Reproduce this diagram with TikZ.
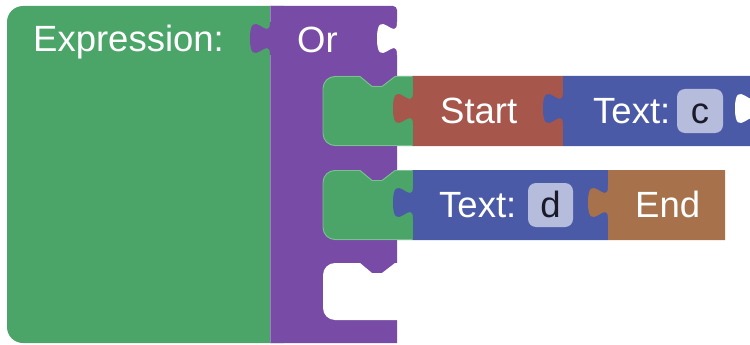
\documentclass[tikz,border=0pt]{standalone}
\usepackage{fontspec}
\setmainfont{Liberation Sans}
\definecolor{gr}{HTML}{4BA568}
\definecolor{pu}{HTML}{784BA6}
\definecolor{rd}{HTML}{A6564B}
\definecolor{bl}{HTML}{4B5AA6}
\definecolor{br}{HTML}{A6714B}
\definecolor{lb}{HTML}{B6BCDC}
\definecolor{dk}{HTML}{1A1A2A}
\newcommand\vblk[5]{%
  \fill[#1] (#2,#3) -- (#4,#3) -- (#4,#5) -- (#2,#5) -- (#2,#3+49)
    .. controls (#2,#3+27) and (#2-20,#3+66.6) .. (#2-20,#3+32.5)
    .. controls (#2-20,#3-1.6) and (#2,#3+38) .. (#2,#3+16) -- cycle;}
\newcommand\stmtblk[5]{%
  \path[#1] (#4,#2) -- (395,#2) -- (382,#2+10) -- (372,#2+10) -- (360,#2) -- (335,#2)
    .. controls (328.4,#2) and (323,#2+5.4) .. (323,#2+12) -- (323,#3-12)
    .. controls (323,#3-5.4) and (328.4,#3) .. (335,#3) -- (#4,#3)#5;}
\newcommand\fnotch[2]{%
  \fill[white] (#1,#2) .. controls (#1,#2+22) and (#1-20,#2-17.6) .. (#1-20,#2+16.5)
    .. controls (#1-20,#2+50.6) and (#1,#2+11) .. (#1,#2+33) -- (#1+3,#2+33) -- (#1+3,#2) -- cycle;}
\begin{document}
\begin{tikzpicture}[x=1pt,y=-1pt,
  lbl/.style={text=white,anchor=base west,inner sep=0pt,font=\fontsize{36.5}{42}\selectfont},
  val/.style={text=dk,anchor=base,inner sep=0pt,font=\fontsize{36.5}{42}\selectfont},
  hl/.style={draw=#1!72!white,line width=0.9pt}]
\useasboundingbox (0,0) rectangle (750,345);
\clip (0,0) rectangle (750,345);
% big green block
\fill[gr,rounded corners=16] (7,6) rectangle (300,343);
% purple Or block
\fill[pu] (270,6) -- (393,6) .. controls (395.2,6) and (397,7.8) .. (397,10) -- (397,343) -- (270,343) -- (270,55)
  .. controls (270,33) and (250,72.6) .. (250,38.5)
  .. controls (250,4.4) and (270,44) .. (270,22) -- cycle;
\draw[hl=pu] (270.5,343) -- (270.5,55) (270.5,22) -- (270.5,6);
\fnotch{397}{22}
% empty third statement cavity
\stmtblk{fill=white}{263}{320}{400}{ -- cycle}
% statement blocks
\stmtblk{fill=gr}{76}{146}{413}{ -- cycle}
\stmtblk{hl=gr}{76.5}{145.5}{412}{}
\stmtblk{fill=gr}{170}{240}{413}{ -- cycle}
\stmtblk{hl=gr}{170.5}{239.5}{412}{}
% row 1
\vblk{rd}{413}{76}{563}{146}
\vblk{bl}{563}{76}{755}{146}
\fnotch{755}{92}
\fill[lb,rounded corners=8] (677,89) rectangle (723,133);
% row 2
\vblk{bl}{413}{170}{608}{240}
\vblk{br}{608}{170}{725}{240}
\fill[lb,rounded corners=8] (528,183) rectangle (573,227);
% labels
\node[lbl] (expr) at (33,52) {Expression:};
\node[lbl] (or) at (297,53) {Or};
\node[lbl] (start) at (440,123) {Start};
\node[lbl] (textc) at (593,123) {Text:};
\node[val] (c) at (700,123) {c};
\node[lbl] (textd) at (439,217) {Text:};
\node[val] (d) at (550.5,217) {d};
\node[lbl] (end) at (635,217) {End};
\end{tikzpicture}
\end{document}
